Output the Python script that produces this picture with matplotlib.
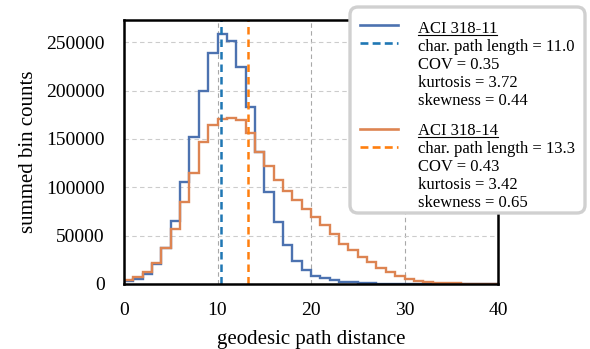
import numpy as np
import matplotlib
matplotlib.use("Agg")
import matplotlib.pyplot as plt
from matplotlib.patches import FancyBboxPatch
from matplotlib.lines import Line2D

plt.rcParams['font.family'] = ['Liberation Serif', 'DejaVu Serif']

# ---- data ----
bin_edges = list(range(0, 41))
aci_318_11 = [2600, 5000, 10500, 20500, 37000, 65000, 105000, 152000, 200000, 239000,
              259000, 251000, 224000, 183000, 136000, 95000, 64000, 40000, 24200, 14500,
              8500, 5800, 3800, 2500, 1700, 1100, 700, 450, 300, 200,
              120, 80, 50, 30, 20, 10, 5, 3, 2, 1]
aci_318_14 = [3800, 7500, 12000, 21500, 37000, 57000, 84500, 115000, 147000, 164000,
              171000, 172000, 170000, 156000, 137000, 122000, 108000, 96500, 86500, 77500,
              69200, 60800, 51300, 41300, 35000, 28000, 22500, 16500, 12800, 8500,
              5300, 3400, 2400, 1500, 1000, 650, 400, 250, 150, 80]
char_lengths_drawn = [10.4, 13.3]
series_names = ["ACI 318-11", "ACI 318-14"]
stats_text = [["char. path length = 11.0", "COV = 0.35", "kurtosis = 3.72", "skewness = 0.44"],
              ["char. path length = 13.3", "COV = 0.43", "kurtosis = 3.42", "skewness = 0.65"]]
x_ticks = [0, 10, 20, 30, 40]
y_ticks = [0, 50000, 100000, 150000, 200000, 250000]

hist_colors = ["#4c72b0", "#dd8452"]
line_colors = ["#1f77b4", "#ff7f0e"]

W, H, DPI = 590, 349, 100
fig = plt.figure(figsize=(W / DPI, H / DPI), dpi=DPI)
ax = fig.add_axes([124 / W, 1 - 284 / H, (498 - 124) / W, (284 - 20) / H])

ax.set_axisbelow(True)
ax.xaxis.grid(True, color="#a8a8a8", linestyle=(0, (4, 3)), linewidth=0.8)
ax.yaxis.grid(True, color="#cccccc", linestyle=(0, (4, 3)), linewidth=0.8)

for vals, c in zip([aci_318_11, aci_318_14], hist_colors):
    ax.stairs(vals, bin_edges, color=c, linewidth=1.7, baseline=0)
for xv, c in zip(char_lengths_drawn, line_colors):
    ax.axvline(xv, color=c, linestyle=(0, (3, 2)), linewidth=1.8)

ax.set_xlim(0, 40)
ax.set_ylim(0, 273000)
ax.set_xticks(x_ticks)
ax.set_yticks(y_ticks)
ax.tick_params(axis='both', length=0, labelsize=14)
ax.tick_params(axis='x', pad=13)
ax.tick_params(axis='y', pad=14)
for s in ax.spines.values():
    s.set_color("black")
    s.set_linewidth(1.8)

ax.set_xlabel("geodesic path distance", fontsize=15, labelpad=8)
ax.set_ylabel("summed bin counts", fontsize=15, labelpad=6)

# ---- manual legend in pixel coords (y from top) ----
tr = fig.dpi_scale_trans
def P(x, y):
    return x / DPI, (H - y) / DPI

bx0, by0, bx1, by1 = 350, 7, 585, 213
box = FancyBboxPatch(P(bx0, by1), (bx1 - bx0) / DPI, (by1 - by0) / DPI,
                     boxstyle="round,pad=0,rounding_size=0.08",
                     transform=tr, facecolor="white", edgecolor="#d0d0d0",
                     linewidth=2.4, zorder=10, clip_on=False)
fig.add_artist(box)

handle_y = [(25, 43), (129, 147)]
base_y = [[33, 51, 69, 87, 105], [135, 153, 171, 189, 207]]
tx = 418
title_texts = []
for i in range(2):
    ys, yd = handle_y[i]
    for y, ls, col in [(ys, '-', hist_colors[i]), (yd, (0, (3, 1.6)), line_colors[i])]:
        (x0, yy0), (x1, yy1) = P(360, y), P(398, y)
        fig.add_artist(Line2D([x0, x1], [yy0, yy1], transform=tr, color=col,
                              linestyle=ls, linewidth=1.9, zorder=11))
    lines = [series_names[i]] + stats_text[i]
    for j, (lab, by) in enumerate(zip(lines, base_y[i])):
        t = fig.text(*P(tx, by), lab, transform=tr, fontsize=12,
                     va='baseline', ha='left', zorder=12)
        if j == 0:
            title_texts.append((t, by))

fig.canvas.draw()
r = fig.canvas.get_renderer()
for t, by in title_texts:
    bb = t.get_window_extent(r)
    (x0, y0) = P(bb.x0, by + 2)
    (x1, _) = P(bb.x1, by + 2)
    fig.add_artist(Line2D([x0, x1], [y0, y0], transform=tr, color="black",
                          linewidth=0.8, zorder=12))

fig.savefig("out.png", dpi=DPI)
